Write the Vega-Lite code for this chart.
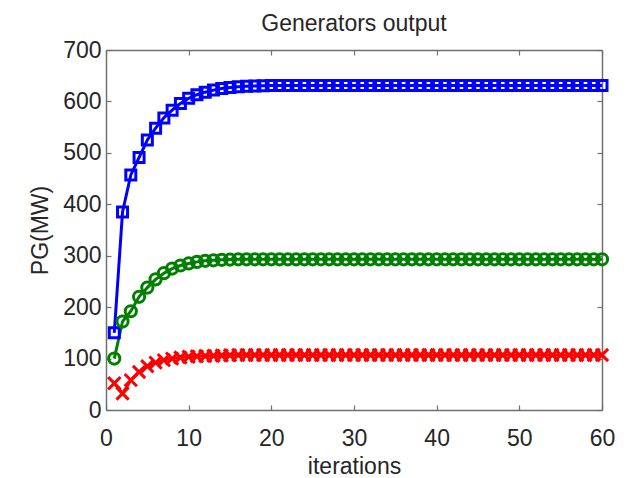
{
  "$schema": "https://vega.github.io/schema/vega-lite/v6.json",
  "autosize": "none",
  "width": 496,
  "height": 360,
  "padding": {"left": 106, "top": 50, "right": 28, "bottom": 68},
  "background": "white",
  "title": {"text": "Generators output", "font": "Liberation Sans", "fontSize": 23, "fontWeight": "normal", "color": "#262626", "offset": 3},
  "config": {
    "view": {"stroke": null},
    "axis": {"labelFont": "Liberation Sans", "titleFont": "Liberation Sans", "labelFontSize": 23, "titleFontSize": 23, "titleFontWeight": "normal", "labelColor": "#262626", "titleColor": "#262626", "domainColor": "#707070", "tickColor": "#707070", "domainWidth": 1.5, "tickWidth": 1.2, "tickSize": -5, "grid": false, "labelFlush": false, "offset": 0}
  },
  "data": {"values": [
    {"i":1,"g":"G1","p":150},{"i":2,"g":"G1","p":385},{"i":3,"g":"G1","p":457},{"i":4,"g":"G1","p":491},{"i":5,"g":"G1","p":525},{"i":6,"g":"G1","p":548},{"i":7,"g":"G1","p":568},{"i":8,"g":"G1","p":583},{"i":9,"g":"G1","p":596},{"i":10,"g":"G1","p":606},
    {"i":11,"g":"G1","p":613},{"i":12,"g":"G1","p":618},{"i":13,"g":"G1","p":622},{"i":14,"g":"G1","p":625},{"i":15,"g":"G1","p":627},{"i":16,"g":"G1","p":628.5},{"i":17,"g":"G1","p":629.5},{"i":18,"g":"G1","p":630},{"i":19,"g":"G1","p":630.5},{"i":20,"g":"G1","p":631},
    {"i":21,"g":"G1","p":631},{"i":22,"g":"G1","p":631},{"i":23,"g":"G1","p":631},{"i":24,"g":"G1","p":631},{"i":25,"g":"G1","p":631},{"i":26,"g":"G1","p":631},{"i":27,"g":"G1","p":631},{"i":28,"g":"G1","p":631},{"i":29,"g":"G1","p":631},{"i":30,"g":"G1","p":631},
    {"i":31,"g":"G1","p":631},{"i":32,"g":"G1","p":631},{"i":33,"g":"G1","p":631},{"i":34,"g":"G1","p":631},{"i":35,"g":"G1","p":631},{"i":36,"g":"G1","p":631},{"i":37,"g":"G1","p":631},{"i":38,"g":"G1","p":631},{"i":39,"g":"G1","p":631},{"i":40,"g":"G1","p":631},
    {"i":41,"g":"G1","p":631},{"i":42,"g":"G1","p":631},{"i":43,"g":"G1","p":631},{"i":44,"g":"G1","p":631},{"i":45,"g":"G1","p":631},{"i":46,"g":"G1","p":631},{"i":47,"g":"G1","p":631},{"i":48,"g":"G1","p":631},{"i":49,"g":"G1","p":631},{"i":50,"g":"G1","p":631},
    {"i":51,"g":"G1","p":631},{"i":52,"g":"G1","p":631},{"i":53,"g":"G1","p":631},{"i":54,"g":"G1","p":631},{"i":55,"g":"G1","p":631},{"i":56,"g":"G1","p":631},{"i":57,"g":"G1","p":631},{"i":58,"g":"G1","p":631},{"i":59,"g":"G1","p":631},{"i":60,"g":"G1","p":631},
    {"i":1,"g":"G2","p":100},{"i":2,"g":"G2","p":172},{"i":3,"g":"G2","p":192},{"i":4,"g":"G2","p":220},{"i":5,"g":"G2","p":238},{"i":6,"g":"G2","p":254},{"i":7,"g":"G2","p":266},{"i":8,"g":"G2","p":275},{"i":9,"g":"G2","p":281},{"i":10,"g":"G2","p":285},
    {"i":11,"g":"G2","p":288},{"i":12,"g":"G2","p":290},{"i":13,"g":"G2","p":291},{"i":14,"g":"G2","p":292},{"i":15,"g":"G2","p":292.5},{"i":16,"g":"G2","p":293},{"i":17,"g":"G2","p":293},{"i":18,"g":"G2","p":293},{"i":19,"g":"G2","p":293},{"i":20,"g":"G2","p":293},
    {"i":21,"g":"G2","p":293},{"i":22,"g":"G2","p":293},{"i":23,"g":"G2","p":293},{"i":24,"g":"G2","p":293},{"i":25,"g":"G2","p":293},{"i":26,"g":"G2","p":293},{"i":27,"g":"G2","p":293},{"i":28,"g":"G2","p":293},{"i":29,"g":"G2","p":293},{"i":30,"g":"G2","p":293},
    {"i":31,"g":"G2","p":293},{"i":32,"g":"G2","p":293},{"i":33,"g":"G2","p":293},{"i":34,"g":"G2","p":293},{"i":35,"g":"G2","p":293},{"i":36,"g":"G2","p":293},{"i":37,"g":"G2","p":293},{"i":38,"g":"G2","p":293},{"i":39,"g":"G2","p":293},{"i":40,"g":"G2","p":293},
    {"i":41,"g":"G2","p":293},{"i":42,"g":"G2","p":293},{"i":43,"g":"G2","p":293},{"i":44,"g":"G2","p":293},{"i":45,"g":"G2","p":293},{"i":46,"g":"G2","p":293},{"i":47,"g":"G2","p":293},{"i":48,"g":"G2","p":293},{"i":49,"g":"G2","p":293},{"i":50,"g":"G2","p":293},
    {"i":51,"g":"G2","p":293},{"i":52,"g":"G2","p":293},{"i":53,"g":"G2","p":293},{"i":54,"g":"G2","p":293},{"i":55,"g":"G2","p":293},{"i":56,"g":"G2","p":293},{"i":57,"g":"G2","p":293},{"i":58,"g":"G2","p":293},{"i":59,"g":"G2","p":293},{"i":60,"g":"G2","p":293},
    {"i":1,"g":"G3","p":52},{"i":2,"g":"G3","p":32},{"i":3,"g":"G3","p":58},{"i":4,"g":"G3","p":74},{"i":5,"g":"G3","p":85},{"i":6,"g":"G3","p":92},{"i":7,"g":"G3","p":97},{"i":8,"g":"G3","p":100},{"i":9,"g":"G3","p":102},{"i":10,"g":"G3","p":103.5},
    {"i":11,"g":"G3","p":104.5},{"i":12,"g":"G3","p":105},{"i":13,"g":"G3","p":105.5},{"i":14,"g":"G3","p":106},{"i":15,"g":"G3","p":106.5},{"i":16,"g":"G3","p":107},{"i":17,"g":"G3","p":107},{"i":18,"g":"G3","p":107},{"i":19,"g":"G3","p":107},{"i":20,"g":"G3","p":107},
    {"i":21,"g":"G3","p":107},{"i":22,"g":"G3","p":107},{"i":23,"g":"G3","p":107},{"i":24,"g":"G3","p":107},{"i":25,"g":"G3","p":107},{"i":26,"g":"G3","p":107},{"i":27,"g":"G3","p":107},{"i":28,"g":"G3","p":107},{"i":29,"g":"G3","p":107},{"i":30,"g":"G3","p":107},
    {"i":31,"g":"G3","p":107},{"i":32,"g":"G3","p":107},{"i":33,"g":"G3","p":107},{"i":34,"g":"G3","p":107},{"i":35,"g":"G3","p":107},{"i":36,"g":"G3","p":107},{"i":37,"g":"G3","p":107},{"i":38,"g":"G3","p":107},{"i":39,"g":"G3","p":107},{"i":40,"g":"G3","p":107},
    {"i":41,"g":"G3","p":107},{"i":42,"g":"G3","p":107},{"i":43,"g":"G3","p":107},{"i":44,"g":"G3","p":107},{"i":45,"g":"G3","p":107},{"i":46,"g":"G3","p":107},{"i":47,"g":"G3","p":107},{"i":48,"g":"G3","p":107},{"i":49,"g":"G3","p":107},{"i":50,"g":"G3","p":107},
    {"i":51,"g":"G3","p":107},{"i":52,"g":"G3","p":107},{"i":53,"g":"G3","p":107},{"i":54,"g":"G3","p":107},{"i":55,"g":"G3","p":107},{"i":56,"g":"G3","p":107},{"i":57,"g":"G3","p":107},{"i":58,"g":"G3","p":107},{"i":59,"g":"G3","p":107},{"i":60,"g":"G3","p":107}
  ]},
  "layer": [
    {
      "mark": {"type": "line", "strokeWidth": 3},
      "encoding": {
        "x": {"field": "i", "type": "quantitative", "scale": {"domain": [0, 60], "nice": false}, "axis": {"title": "iterations", "values": [0,10,20,30,40,50,60], "labelPadding": 22, "titlePadding": 5}},
        "y": {"field": "p", "type": "quantitative", "scale": {"domain": [0, 700], "nice": false}, "axis": {"title": "PG(MW)", "values": [0,100,200,300,400,500,600,700], "labelPadding": 10, "titlePadding": 10}},
        "color": {"field": "g", "type": "nominal", "scale": {"domain": ["G1","G2","G3"], "range": ["#0000ff","#007f00","#ff0000"]}, "legend": null}
      }
    },
    {
      "mark": {"type": "point", "filled": false, "strokeWidth": 3, "opacity": 1},
      "encoding": {
        "x": {"field": "i", "type": "quantitative", "scale": {"domain": [0, 60], "nice": false}, "axis": {"orient": "top", "title": null, "labels": false, "values": [0,10,20,30,40,50,60]}},
        "y": {"field": "p", "type": "quantitative", "scale": {"domain": [0, 700], "nice": false}, "axis": {"orient": "right", "title": null, "labels": false, "values": [0,100,200,300,400,500,600,700]}},
        "color": {"field": "g", "type": "nominal", "scale": {"domain": ["G1","G2","G3"], "range": ["#0000ff","#007f00","#ff0000"]}, "legend": null},
        "shape": {"field": "g", "type": "nominal", "scale": {"domain": ["G1","G2","G3"], "range": ["square","circle","M-1,-1L1,1M-1,1L1,-1"]}, "legend": null},
        "size": {"field": "g", "type": "nominal", "scale": {"domain": ["G1","G2","G3"], "range": [100,150,100]}, "legend": null}
      }
    }
  ],
  "resolve": {"axis": {"x": "independent", "y": "independent"}}
}
